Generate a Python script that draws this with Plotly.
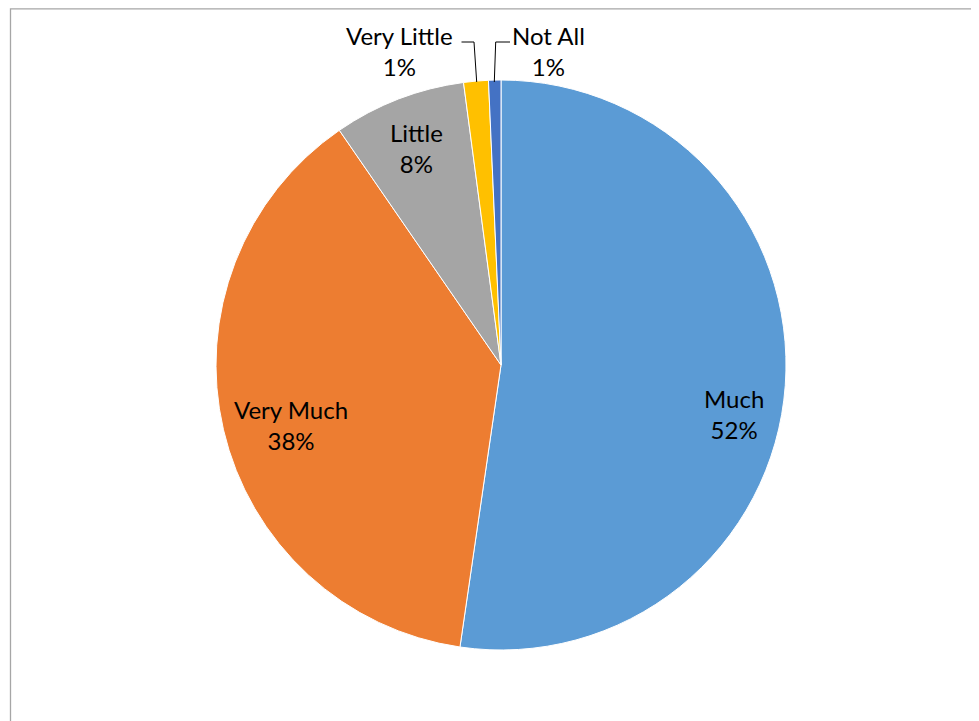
import plotly.graph_objects as go

labels = ["Much", "Very Much", "Little", "Very Little", "Not All"]
values = [52.3, 38.1, 7.5, 1.4, 0.7]
colors = ["#5B9BD5", "#ED7D31", "#A5A5A5", "#FFC000", "#4472C4"]

W, H = 979, 721
OFF = 8  # page body margin offset
cx, cy, r = 501 - OFF, 365 - OFF, 285

fig = go.Figure(go.Pie(
    labels=labels, values=values, sort=False, direction="clockwise", rotation=0,
    marker=dict(colors=colors, line=dict(color="white", width=1)),
    textinfo="none", hoverinfo="label+percent", showlegend=False,
    domain=dict(x=[(cx - r) / W, (cx + r) / W], y=[1 - (cy + r) / H, 1 - (cy - r) / H]),
))

# label positions (page pixels)
label_pos = [(734, 414), (291, 425), (416, 148), (399, 51), (548, 51)]
total = sum(values)
annotations = []
for lab, v, (px, py) in zip(labels, values, label_pos):
    annotations.append(dict(
        x=(px - OFF) / W, y=1 - (py - OFF) / H, xref="paper", yref="paper",
        xanchor="center", yanchor="middle",
        text=f"{lab}<br>{round(v / total * 100)}%", showarrow=False,
        font=dict(family="Lato, Open Sans, sans-serif", size=24, color="#000000"),
        align="center",
    ))

def P(x, y):
    return f"{(x - OFF) / W},{1 - (y - OFF) / H}"

shapes = [
    dict(type="path", xref="paper", yref="paper",
         path=f"M{P(461.5, 42)} L{P(474, 42)} L{P(476.7, 82)}",
         line=dict(color="#000000", width=1)),
    dict(type="path", xref="paper", yref="paper",
         path=f"M{P(510, 42)} L{P(495.7, 42)} L{P(494.3, 82)}",
         line=dict(color="#000000", width=1)),
    dict(type="rect", xref="paper", yref="paper",
         x0=(10.5 - OFF) / W, x1=1.02, y0=-0.02, y1=1 - 0.8 / H,
         line=dict(color="#A6A6A6", width=1.3), fillcolor="rgba(0,0,0,0)"),
]

fig.update_layout(
    width=W, height=H, margin=dict(l=0, r=0, t=0, b=0),
    paper_bgcolor="white", plot_bgcolor="white",
    annotations=annotations, shapes=shapes,
)
fig.write_html("out.html")
